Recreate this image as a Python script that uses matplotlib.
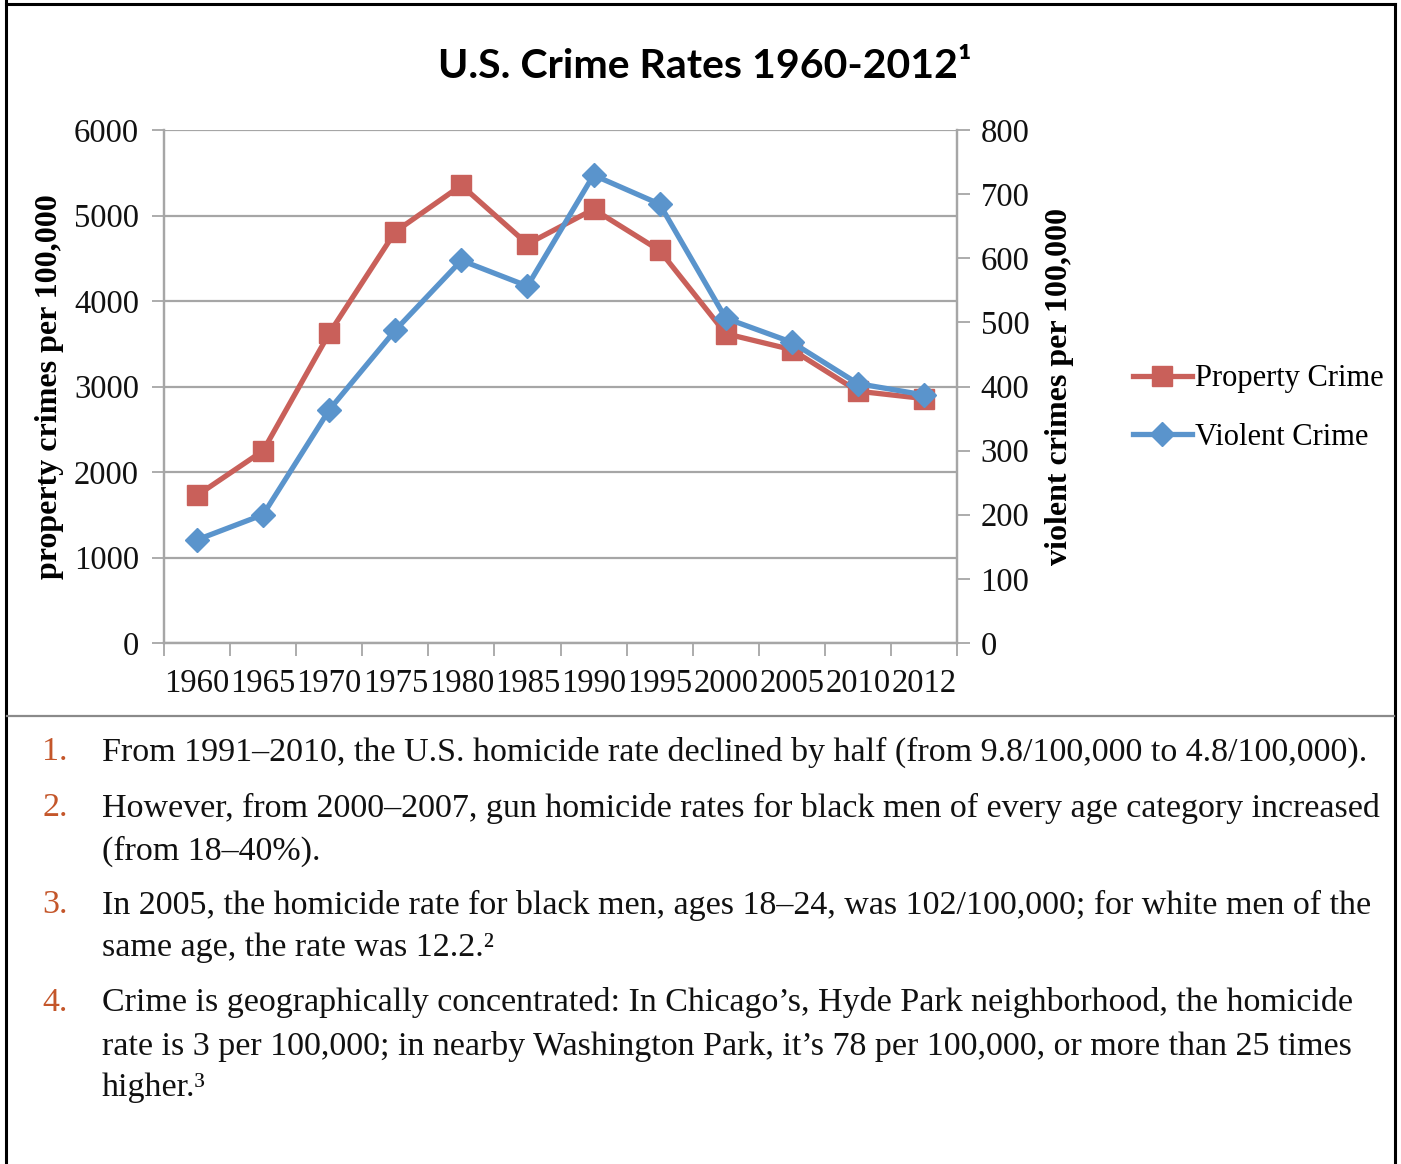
import matplotlib
matplotlib.use("Agg")
import matplotlib.pyplot as plt
from matplotlib.lines import Line2D

W, H = 1401, 1164

years = ["1960", "1965", "1970", "1975", "1980", "1985",
         "1990", "1995", "2000", "2005", "2010", "2012"]
property_crime = [1726, 2249, 3621, 4811, 5353, 4666,
                  5073, 4591, 3618, 3431, 2945, 2859]
violent_crime = [160.9, 200.2, 363.5, 487.8, 596.6, 556.6,
                 729.6, 684.5, 506.5, 469.0, 404.5, 386.9]

notes = [
    ["From 1991\u20132010, the U.S. homicide rate declined by half (from 9.8/100,000 to 4.8/100,000)."],
    ["However, from 2000\u20132007, gun homicide rates for black men of every age category increased",
     "(from 18\u201340%)."],
    ["In 2005, the homicide rate for black men, ages 18\u201324, was 102/100,000; for white men of the",
     "same age, the rate was 12.2.\u00b2"],
    ["Crime is geographically concentrated: In Chicago\u2019s, Hyde Park neighborhood, the homicide",
     "rate is 3 per 100,000; in nearby Washington Park, it\u2019s 78 per 100,000, or more than 25 times",
     "higher.\u00b3"],
]
note_y = [[752], [808, 851], [905, 948], [1003, 1046, 1088]]

RED = "#C9605A"
BLUE = "#5A94CC"
GRID = "#A6A6A6"
SERIF = ["Liberation Serif", "DejaVu Serif"]


def fx(px):
    return px / W


def fy(py):
    return 1 - py / H


fig = plt.figure(figsize=(W / 100, H / 100), dpi=100)

# plot area
ax = fig.add_axes([fx(164), fy(643), fx(957) - fx(164), fy(130) - fy(643)])
ax2 = ax.twinx()

x = list(range(len(years)))
ax.plot(x, property_crime, color=RED, lw=3.8, marker="s", ms=15,
        label="Property Crime", zorder=3)
ax2.plot(x, violent_crime, color=BLUE, lw=3.8, marker="D", ms=12,
         label="Violent Crime", zorder=3)

ax.set_xlim(-0.5, len(years) - 0.5)
ax.set_ylim(0, 6000)
ax2.set_ylim(0, 800)
ax.set_yticks(range(0, 6001, 1000))
ax2.set_yticks(range(0, 801, 100))

# category axis: ticks between categories, labels at centres
ax.set_xticks([i - 0.5 for i in range(len(years) + 1)])
ax.set_xticklabels([])
ax.set_xticks(x, minor=True)
ax.set_xticklabels(years, minor=True)
ax.tick_params(axis="x", which="minor", length=0, pad=18)
ax.tick_params(axis="x", which="major", length=9, width=1.3, color=GRID)

ax.grid(axis="y", color=GRID, lw=1.6)
ax.set_axisbelow(True)

for a in (ax, ax2):
    a.spines["top"].set_visible(False)
    for s in ("left", "right", "bottom"):
        a.spines[s].set_color(GRID)
        a.spines[s].set_linewidth(1.6)
ax.tick_params(axis="y", length=9, width=1.3, color=GRID, pad=9)
ax2.tick_params(axis="y", length=9, width=1.3, color=GRID, pad=8)

for lab in ax.get_yticklabels() + ax2.get_yticklabels() + ax.get_xticklabels(minor=True):
    lab.set_fontfamily(SERIF)
    lab.set_fontsize(23.5)
    lab.set_color("#111111")

fig.text(fx(50), fy(387), "property crimes per 100,000", rotation=90,
         ha="center", va="center", family=SERIF, fontsize=23, fontweight="bold")
fig.text(fx(1060), fy(387), "violent crimes per 100,000", rotation=90,
         ha="center", va="center", family=SERIF, fontsize=23, fontweight="bold")

fig.text(fx(705), fy(66), "U.S. Crime Rates 1960-2012\u00b9", ha="center", va="center",
         family=["Lato", "DejaVu Sans"], fontsize=29.5, fontweight="bold")

handles = [ax.get_lines()[0], ax2.get_lines()[0]]
fig.legend(handles, [h.get_label() for h in handles], loc="center left",
           bbox_to_anchor=(fx(1105), fy(408)), frameon=False,
           prop={"family": SERIF, "size": 22}, handlelength=1.95,
           handletextpad=0.08, labelspacing=0.95)

# outer frame and separator
for xs, ys in [([6, 6], [0, H]), ([6, 1395], [4, 4]), ([1395, 1395], [4, H])]:
    fig.add_artist(Line2D([fx(v) for v in xs], [fy(v) for v in ys],
                          color="black", lw=2.2))
fig.add_artist(Line2D([fx(7), fx(1394)], [fy(716), fy(716)], color="#8a8a8a", lw=1.6))

# numbered notes below the chart
for i, (lines, ys) in enumerate(zip(notes, note_y)):
    fig.text(fx(42), fy(ys[0]), f"{i + 1}.", ha="left", va="center",
             family=SERIF, fontsize=24.5, color="#C4562A")
    for line, yy in zip(lines, ys):
        fig.text(fx(102), fy(yy), line, ha="left", va="center",
                 family=SERIF, fontsize=24.5, color="#111111")

fig.savefig("out.png", dpi=100)
